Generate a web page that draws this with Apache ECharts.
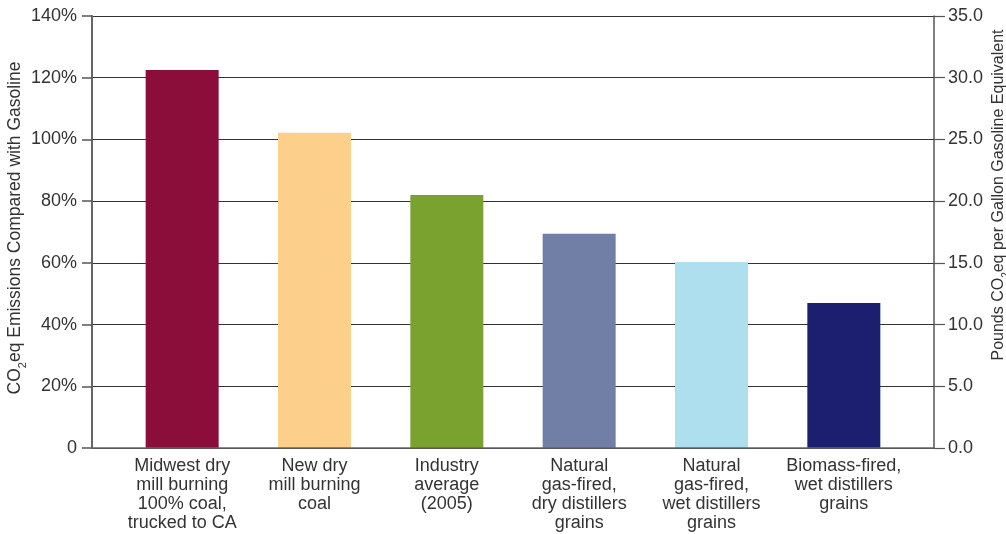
<!DOCTYPE html>
<html>
<head>
<meta charset="utf-8">
<script src="https://cdn.jsdelivr.net/npm/echarts@6/dist/echarts.min.js"></script>
<style>html,body{margin:0;padding:0;background:#fff;}#c{width:1006px;height:534px;}</style>
</head>
<body>
<div id="c"></div>
<script>
var categories = [
  "Midwest dry\nmill burning\n100% coal,\ntrucked to CA",
  "New dry\nmill burning\ncoal",
  "Industry\naverage\n(2005)",
  "Natural\ngas-fired,\ndry distillers\ngrains",
  "Natural\ngas-fired,\nwet distillers\ngrains",
  "Biomass-fired,\nwet distillers\ngrains"
];
var percentValues = [122.5, 102.2, 82.0, 69.4, 60.3, 47.0];
var barColors = ["#8B0D3A", "#FCD08A", "#79A22F", "#717EA6", "#ADDFEF", "#1C1F70"];
var leftTicks = {min: 0, max: 140, interval: 20};
var rightTicks = {min: 0, max: 35, interval: 5};

var FONT = "Liberation Sans";
var TXT = "#333";

var chart = echarts.init(document.getElementById('c'));
chart.setOption({
  animation: false,
  grid: [
    {left: 92, right: 72, top: 16, bottom: 86, containLabel: false, outerBoundsMode: 'none'},
    {left: 116, right: 96, top: 16, bottom: 86, containLabel: false, outerBoundsMode: 'none'}
  ],
  xAxis: [
    {gridIndex: 0, type: 'category', data: [''], z: 10,
     axisLine: {show: true, lineStyle: {color: '#666', width: 1.5}},
     axisTick: {show: false}, axisLabel: {show: false}, splitLine: {show: false}},
    {gridIndex: 1, type: 'category', data: categories,
     axisLine: {show: false}, axisTick: {show: false}, splitLine: {show: false}, splitArea: {show: false},
     axisLabel: {interval: 0, margin: 9, color: TXT, fontFamily: FONT, fontSize: 18, lineHeight: 19}}
  ],
  yAxis: [
    {gridIndex: 0, type: 'value', min: leftTicks.min, max: leftTicks.max, interval: leftTicks.interval, position: 'left',
     axisLine: {show: true, lineStyle: {color: '#666', width: 2}},
     axisTick: {show: true, length: 10, lineStyle: {color: '#555', width: 1.5}},
     axisLabel: {margin: 15, color: TXT, fontFamily: FONT, fontSize: 18,
       formatter: function (v) { return v === 0 ? '0' : v + '%'; }},
     splitLine: {show: true, lineStyle: {color: '#333', width: 1.2}}},
    {gridIndex: 0, type: 'value', min: rightTicks.min, max: rightTicks.max, interval: rightTicks.interval, position: 'right',
     axisLine: {show: true, lineStyle: {color: '#555', width: 1.5}},
     axisTick: {show: true, length: 11, lineStyle: {color: '#555', width: 1.2}},
     axisLabel: {margin: 14, color: TXT, fontFamily: FONT, fontSize: 18,
       formatter: function (v) { return v.toFixed(1); }},
     splitLine: {show: false}},
    {gridIndex: 1, type: 'value', min: leftTicks.min, max: leftTicks.max, interval: leftTicks.interval,
     axisLine: {show: false}, axisTick: {show: false}, axisLabel: {show: false}, splitLine: {show: false}, splitArea: {show: false}}
  ],
  graphic: [
    {type: 'text', x: 14, y: 228, rotation: Math.PI / 2,
     style: {text: '{a|CO}{s|2}{a|eq Emissions Compared with Gasoline}', align: 'center', verticalAlign: 'middle',
       rich: {a: {fontFamily: FONT, fontSize: 17.5, fill: TXT, color: TXT, lineHeight: 20, verticalAlign: 'bottom'},
              s: {fontFamily: FONT, fontSize: 11, fill: TXT, color: TXT, lineHeight: 14, verticalAlign: 'bottom', padding: [0, 0, -4, 0]}}}},
    {type: 'text', x: 998, y: 195, rotation: Math.PI / 2,
     style: {text: '{a|Pounds CO}{s|2}{a|eq per Gallon Gasoline Equivalent}', align: 'center', verticalAlign: 'middle',
       rich: {a: {fontFamily: FONT, fontSize: 16, fill: TXT, color: TXT, lineHeight: 18, verticalAlign: 'bottom'},
              s: {fontFamily: FONT, fontSize: 10, fill: TXT, color: TXT, lineHeight: 12, verticalAlign: 'bottom', padding: [0, 0, -4, 0]}}}}
  ],
  series: [
    {type: 'bar', xAxisIndex: 1, yAxisIndex: 2, barWidth: 73, z: 3,
     itemStyle: {borderWidth: 0},
     data: percentValues.map(function (v, i) { return {value: v, itemStyle: {color: barColors[i]}}; })}
  ]
});
</script>
</body>
</html>
